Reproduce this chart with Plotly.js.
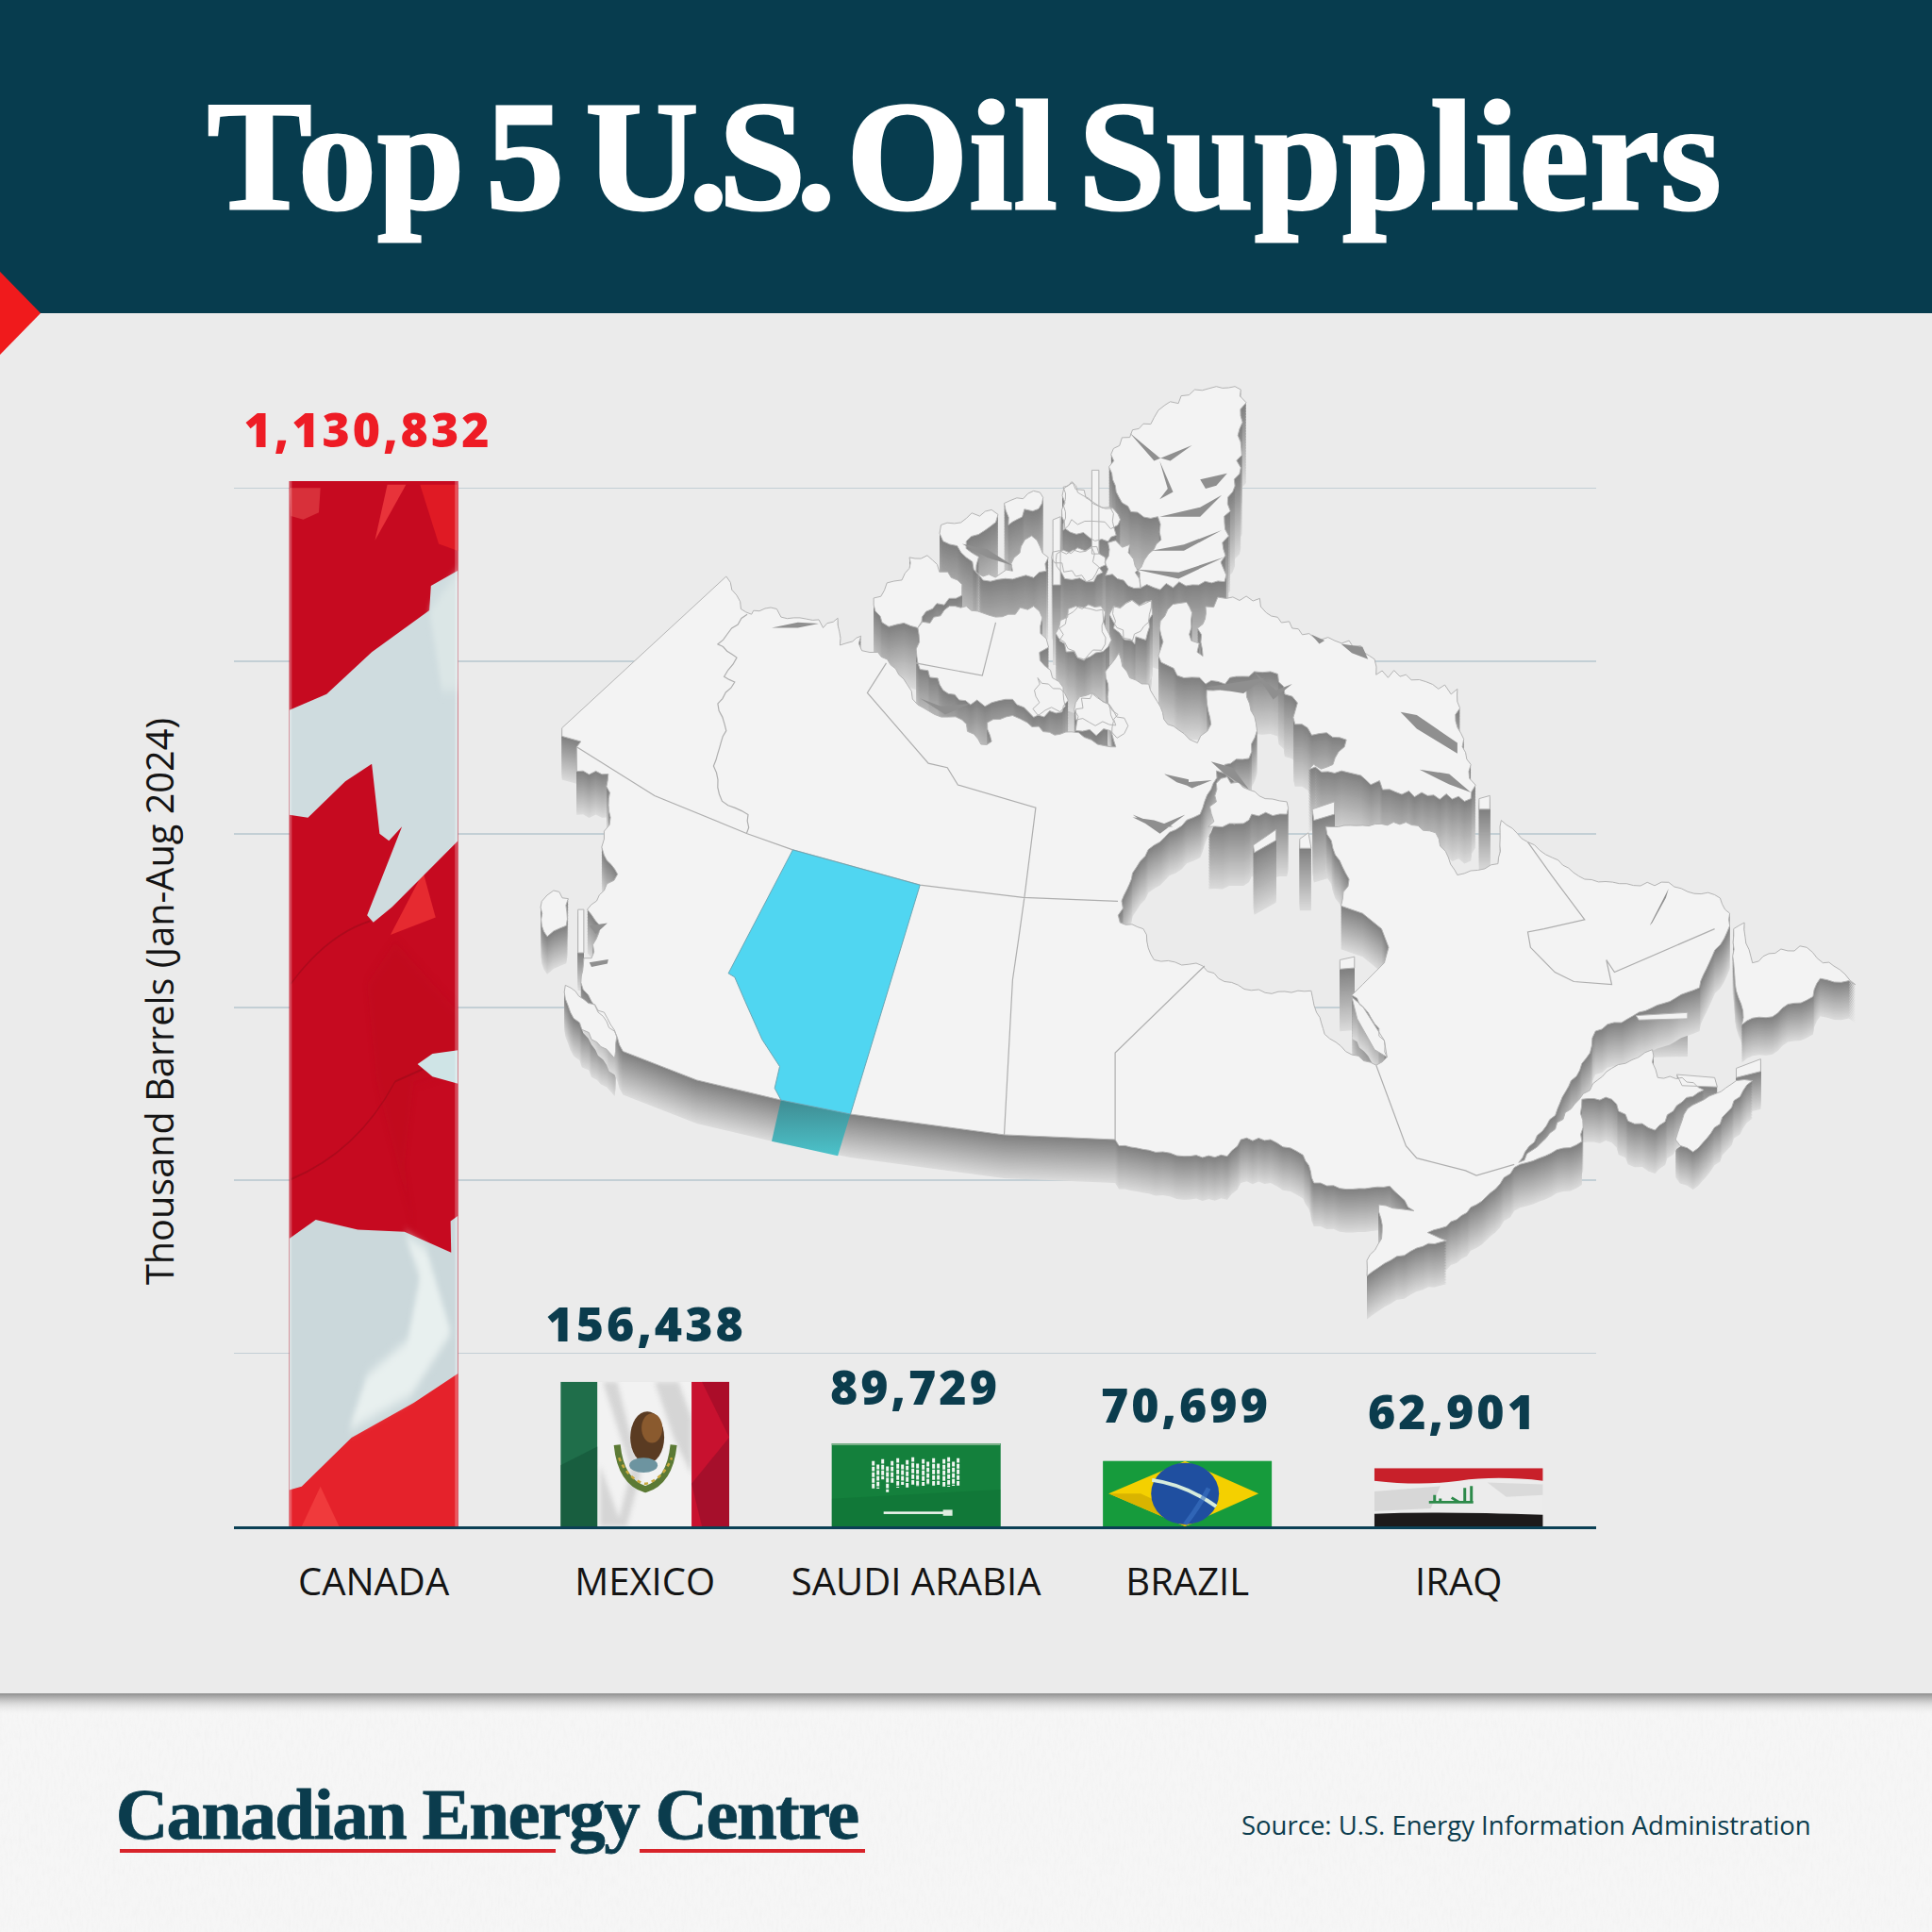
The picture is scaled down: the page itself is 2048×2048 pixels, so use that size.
<!DOCTYPE html>
<html><head><meta charset="utf-8">
<script src="https://cdn.plot.ly/plotly-3.0.1.min.js"></script>
<style>
html,body{margin:0;padding:0;background:#fff}
.gtitle{word-spacing:-21px;letter-spacing:1px;stroke:#fff;stroke-width:3px}
.annotation[data-index="0"] text,.annotation[data-index="1"] text,.annotation[data-index="2"] text,.annotation[data-index="3"] text,.annotation[data-index="4"] text{letter-spacing:3px}
.annotation[data-index="5"] text{letter-spacing:-1.7px;stroke:#0b3c4d;stroke-width:.8px}
</style></head><body><div id="chart" style="width:2048px;height:2048px"></div>
<script>
const categories=['CANADA','MEXICO','SAUDI ARABIA','BRAZIL','IRAQ'];
const barrels=[1130832,156438,89729,70699,62901];
const valueLabels=['1,130,832','156,438','89,729','70,699','62,901'];
const valueColors=['#ee1c25','#0b3c4d','#0b3c4d','#0b3c4d','#0b3c4d'];
const barColors=['#c40a20','#e8e8e8','#14803c','#169b3c','#e8e8e8'];
const labelNudge=[-6,1,-1,-2,-6];
const labelLift=[19,26,24,24,24];
const titleText='Top 5 <span style="letter-spacing:-10px">U.S.</span> Oil Suppliers';
const axisTitle='Thousand Barrels (Jan-Aug 2024)';
const brand='Canadian Energy Centre';
const source='Source: U.S. Energy Information Administration';

const svgURI=(vb,body,defs='')=>'data:image/svg+xml,'+encodeURIComponent(
 `<svg xmlns="http://www.w3.org/2000/svg" viewBox="${vb}" preserveAspectRatio="none"><defs>${defs}</defs>${body}</svg>`);
const pts=a=>a.map(p=>p[0].toFixed(1)+','+p[1].toFixed(1)).join(' ');
const poly=(a,attr)=>`<polygon points="${a.map(p=>p.join(',')).join(' ')}" ${attr}/>`;

/* ---------- flags ---------- */
const flagCanada=svgURI('80 40 542 1497',
 `<rect x="80" y="40" width="542" height="1497" fill="#c60a20"/>
  ${poly([[330,760],[420,700],[622,800],[622,880],[480,900],[450,1020],[480,1110],[360,900]],'fill="#bb0a1e" opacity=".35" filter="url(#softc)"')}
  <path d="M85 760Q200 690 340 670M85 1040Q300 1000 420 900L620 860" fill="none" stroke="#8d0a18" stroke-width="3" opacity=".45"/>
  ${poly([[355,125],[395,45],[455,45]],'fill="#e8333a"')}
  ${poly([[80,50],[180,50],[175,85],[125,95],[85,90]],'fill="#d8303a"')}
  ${poly([[500,45],[622,45],[622,140],[560,130]],'fill="#e01a24"')}
  ${poly([[405,690],[510,600],[550,665]],'fill="#e62a30"')}
  ${poly([[80,1485],[120,1480],[280,1410],[622,1318],[622,1537],[80,1537]],'fill="#e5222b"')}
  ${poly([[120,1537],[180,1480],[240,1537]],'fill="#f03a3c"')}
  ${poly([[80,368],[200,345],[345,285],[530,225],[535,190],[622,168],[622,555],[500,610],[410,650],[350,672],[330,662],[442,535],[400,555],[370,545],[345,445],[260,470],[140,522],[80,518]],'fill="#cfdcdf"')}
  ${poly([[622,855],[540,860],[492,875],[540,893],[622,903]],'fill="#cfe4e6"')}
  ${poly([[80,1125],[165,1098],[300,1112],[450,1115],[600,1145],[598,1100],[622,1092],[622,1318],[480,1360],[280,1410],[120,1480],[80,1485]],'fill="#cbd8db"')}
  ${poly([[270,1400],[330,1320],[460,1270],[500,1180],[450,1118],[520,1140],[600,1260],[470,1350]],'fill="#e8f0ef" filter="url(#softc)"')}
  ${poly([[530,225],[622,170],[622,340],[570,340]],'fill="#dbe6e6" filter="url(#softc)"')}
  ${poly([[80,40],[88,40],[88,1537],[80,1537]],'fill="#fff" opacity=".25"')}${poly([[612,40],[622,40],[622,1537],[612,1537]],'fill="#fff" opacity=".25"')}`,
 `<filter id="softc" x="-20%" y="-20%" width="140%" height="140%"><feGaussianBlur stdDeviation="8"/></filter>`);

const flagMexico=svgURI('0 0 179 156',
 `<rect width="179" height="156" fill="#f2f2f2"/>
  <path d="M45 0H60L85 100L70 156H60L75 95ZM100 0H125L139 40V100L120 60ZM42 90L65 156H42Z" fill="#c9c9c9" opacity=".7" filter="url(#soft)"/>
  <rect width="39" height="156" fill="#1f6e4a"/>
  ${poly([[0,90],[39,70],[39,156],[0,156]],'fill="#15573a" opacity=".7"')}
  <rect x="139" width="40" height="156" fill="#c8112f"/>
  ${poly([[150,0],[179,0],[179,60]],'fill="#9e0c26" opacity=".7"')}${poly([[139,110],[179,60],[179,156],[150,156]],'fill="#94102a" opacity=".65"')}
  <ellipse cx="92" cy="60" rx="18" ry="28" fill="#5a3b22"/><ellipse cx="97" cy="50" rx="11" ry="16" fill="#8a5a2e"/>
  <path d="M60 68 Q64 108 90 116 Q116 108 120 68" fill="none" stroke="#5c7a35" stroke-width="7"/>
  <path d="M62 82 Q72 106 90 110 Q108 106 118 82" fill="none" stroke="#c9a93e" stroke-width="2.5" stroke-dasharray="4 4"/>
  <ellipse cx="88" cy="90" rx="15" ry="8" fill="#6d94a0"/>`,
 `<filter id="soft"><feGaussianBlur stdDeviation="2.5"/></filter>`);

let script='';
const strokes=[[3,4,30],[8,8,26],[13,2,22],[18,10,28],[23,4,24],[29,1,32],[34,8,22],[39,3,30],[45,0,31],[50,7,25],[56,2,29],[61,5,25],[67,1,31],[72,7,23],[78,2,31],[83,0,32],[88,5,26],[93,1,30]];
strokes.forEach(s=>{script+=`<path d="M${41+s[0]} ${15+s[1]}v${s[2]}" stroke="#f2f7f2" stroke-width="3" stroke-dasharray="5 1.2"/>`;});
const flagSaudi=svgURI('0 0 179 90',
 `<rect width="179" height="90" fill="#14803c"/><rect width="179" height="2" fill="#7bb08a"/>
  ${poly([[0,60],[179,50],[179,90],[0,90]],'fill="#0f7335" opacity=".6"')}
  ${script}<rect x="55" y="74" width="66" height="2.6" fill="#eef5ee"/><rect x="118" y="72" width="10" height="6.5" fill="#dfeee0"/>`);

const flagBrazil=svgURI('0 0 179 72',
 `<rect width="179" height="72" fill="#169b3c"/>
  ${poly([[6,36],[87,0],[165,36],[87,72]],'fill="#f4d000"')}
  ${poly([[6,36],[87,72],[102,66],[40,36]],'fill="#d9b400"')}
  <ellipse cx="87" cy="36" rx="36" ry="34" fill="#1f4fa0"/>
  <path d="M52 21 Q87 26 120 50" fill="none" stroke="#d7ecdc" stroke-width="4"/>
  <path d="M87 70 Q102 50 112 30" fill="none" stroke="#3c74c4" stroke-width="5" opacity=".6"/>`);

const flagIraq=svgURI('0 0 179 65',
 `<rect width="179" height="65" fill="#ececec"/>
  <path d="M0 0H179V14Q130 8 90 14T0 14Z" fill="#c8202a"/>
  <path d="M0 51Q60 48 179 52V65H0Z" fill="#1d1a1a"/>
  ${poly([[0,26],[70,20],[60,45],[0,48]],'fill="#cfcfcf" opacity=".7"')}
  ${poly([[120,16],[179,18],[179,30],[140,32]],'fill="#d6d6d6" opacity=".8"')}
  <path d="M58 38H105M64 30V38M70 34V38M82 33 L90 38M96 22V38M103 20V38" stroke="#2d8a4a" stroke-width="3" fill="none"/>`);

/* ---------- background furniture with shadow and paper grain ---------- */
const backdrop=svgURI('0 0 2048 2048',
 `<rect y="1795" width="2048" height="253" fill="#f6f6f6"/>
  <rect y="1795" width="2048" height="253" filter="url(#grain)" opacity=".35"/>
  <rect y="1795" width="2048" height="24" fill="url(#drop)"/>`,
 `<filter id="grain" x="0" y="0" width="100%" height="100%"><feTurbulence type="fractalNoise" baseFrequency="0.35 0.09" numOctaves="3" seed="4"/>
   <feColorMatrix values="0 0 0 0 .72  0 0 0 0 .72  0 0 0 0 .72  .5 .5 0 0 -.42"/></filter>
  <linearGradient id="drop" x1="0" y1="0" x2="0" y2="1"><stop offset="0" stop-color="#8f8f8f"/><stop offset=".45" stop-color="#d2d2d2" stop-opacity=".8"/><stop offset="1" stop-color="#f6f6f6" stop-opacity="0"/></linearGradient>`);

/* ---------- map of Canada, traced in reference pixels from two crops ---------- */
const A=a=>a.map(p=>[560+p[0]/2.24,390+p[1]/1.742]);
const B=a=>a.map(p=>[1100+p[0]/1.742,390+p[1]/1.522]);
/* roughens a traced coastline into a rugged edge */
function rug(a,amp,closed){
  const out=[];const n=a.length;
  for(let i=0;i<(closed?n:n-1);i++){
    const p=a[i],q=a[(i+1)%n];const d=Math.hypot(q[0]-p[0],q[1]-p[1]);const m=Math.max(1,Math.round(d/7));
    const nx=-(q[1]-p[1])/(d||1),ny=(q[0]-p[0])/(d||1);
    for(let j=0;j<m;j++){const t=j/m,x=p[0]+(q[0]-p[0])*t,y=p[1]+(q[1]-p[1])*t;
      const w=j===0?0:amp*(Math.sin(x*1.37+y*0.61)+0.7*Math.sin(x*0.43-y*1.91)+0.5*Math.sin(x*3.1+y*2.3));
      out.push([x+nx*w,y+ny*w]);}
  }
  if(!closed)out.push(a[n-1]);
  return out;
}
const mainland=[
 ...A([[80,665],[470,385]]),
 ...rug(A([[470,385],[495,420],[505,445],[530,455],[535,448],[590,445],[600,460],[690,465],[700,480],[735,462],[740,512],[770,505],[790,495],[792,522],[830,525],[860,548],[900,585],[925,622],[965,640],[1030,650],[1075,695],[1100,690],[1090,655],[1150,642],[1185,655],[1250,678],[1290,672],[1320,682],[1370,698],[1395,700]]),1.4,false),
 ...rug(B([[140,600],[135,560],[125,490],[150,460],[170,500],[205,510],[240,575],[270,590],[295,605],[320,575],[312,520],[385,520],[405,585],[390,630],[345,640],[365,668],[330,650],[320,680],[300,720],[255,745],[215,770],[175,815],[155,860],[152,895],[195,905],[215,955],[305,965],[345,990],[420,1008],[505,1005],[515,1040],[530,1075],[580,1108],[625,1125],[645,1112],[640,1085],[610,1040],[580,1012]]),1.2,false),
 ...B([[600,995],[640,960],[648,935],[635,905],[600,880],[560,868]]),
 ...rug(B([[560,868],[575,825],[545,775],[532,740],[600,738],[680,733],[735,750],[770,810],[775,818],[850,800],[856,730],[905,765],[950,790],[1010,825],[1100,835],[1165,830],[1200,845],[1250,850],[1278,880],[1278,900],[1240,960],[1222,1000],[1100,1045],[1030,1070],[1020,1105],[985,1150],[960,1195],[900,1265],[888,1282],[930,1250],[1000,1180],[1025,1155],[1060,1130],[1110,1112],[1135,1100],[1135,1120],[1145,1145],[1190,1145],[1230,1165],[1180,1190],[1140,1230],[1090,1215],[1060,1180],[1005,1180],[1005,1248],[880,1290],[845,1325],[810,1350],[755,1385],[720,1395],[755,1408],[700,1420],[640,1445],[608,1465],[608,1440],[635,1405],[630,1350],[695,1360],[650,1320],[570,1325],[510,1315],[490,1270],[430,1245],[375,1245],[350,1272],[270,1272],[205,1262],[150,1255],[143,1245]]),1.1,false),
 ...A([[1130,1416],[765,1378],[600,1352],[400,1315],[225,1262]]),
 ...rug(A([[225,1262],[205,1225],[150,1170],[125,1135],[132,1090],[150,1090],[170,1030],[140,1000],[180,965],[212,935],[180,900],[180,870],[195,830],[190,750],[115,745]]),1.3,false),
 ...A([[115,700],[125,690],[80,680]])
];
const R=(a,amp)=>rug(a,amp||2.6,true);
const islandsTall=[
 R(B([[375,35],[330,30],[290,35],[265,45],[235,60],[215,80],[175,100],[170,112],[140,130],[137,170],[145,200],[172,232],[222,240],[225,265],[205,300],[180,330],[190,355],[345,345],[345,250],[360,200],[376,130]])),
 R(B([[48,195],[65,185],[100,215],[140,235],[145,270],[130,280],[60,265],[45,240]])),
 B([[100,165],[113,165],[113,300],[100,300]]),
 R(B([[35,300],[100,290],[120,330],[90,345],[50,340],[35,320]])),
 R(B([[130,282],[170,285],[180,320],[190,355],[125,335]])),
 R(B([[40,420],[75,385],[120,390],[130,450],[85,470],[40,440]])),
 R(B([[140,385],[210,375],[205,410],[175,440],[140,420]])),
 B([[28,245],[42,240],[42,350],[28,350]]),
 R(A([[980,290],[1100,262],[1110,285],[1040,320],[1080,385],[1150,375],[1170,330],[1195,310],[1235,350],[1230,375],[1150,390],[1080,392],[1040,350],[985,320]])),
 R(A([[1130,250],[1160,240],[1215,230],[1220,250],[1160,280],[1140,290]])),
 R(A([[1245,340],[1310,340],[1350,330],[1370,350],[1340,390],[1300,385],[1250,360]])),
 R(A([[1270,220],[1290,210],[1340,250],[1400,270],[1400,290],[1290,280],[1270,300]]))
];
const islandsMid=[
 R(A([[820,425],[905,370],[905,350],[960,355],[1030,400],[1030,420],[970,435],[935,460],[925,480],[840,470]])),
 R(A([[925,480],[1000,440],[1040,440],[1110,460],[1140,455],[1200,440],[1230,500],[1215,540],[1270,590],[1275,625],[1200,645],[1150,612],[1050,622],[985,595],[925,545]])),
 R(A([[1260,480],[1300,440],[1360,440],[1370,510],[1320,540],[1260,500]])),
 R(A([[1390,440],[1480,430],[1470,490],[1440,510],[1390,470]])),
 R(A([[1300,630],[1340,600],[1400,640],[1395,660],[1300,650]])),
 R(B([[0,500],[20,510],[50,525],[45,555],[0,560]])),
 R(B([[70,540],[100,525],[160,565],[160,590],[70,585]])),
 R(B([[348,372],[410,372],[422,395],[470,420],[510,435],[575,440],[622,470],[625,495],[680,495],[740,518],[775,518],[775,580],[800,640],[800,695],[720,690],[650,680],[585,655],[500,648],[545,640],[570,600],[520,590],[475,575],[470,530],[430,490],[400,490],[310,510],[270,500],[228,475],[225,420],[240,390],[275,378],[285,395],[280,430],[305,465],[295,420],[310,385]])),
 R(B([[330,670],[350,660],[420,695],[460,700],[460,720],[395,720],[380,735],[315,740],[330,700]])),
 B([[398,770],[440,745],[440,762],[400,782]]),
 B([[484,760],[500,750],[505,775],[484,775]]),
 B([[507,712],[548,700],[548,720],[510,730]]),
 B([[815,695],[835,690],[835,712],[815,712]]),
 B([[558,955],[585,950],[585,968],[558,970]]),
 B([[580,1015],[600,1030],[640,1085],[645,1112],[622,1100],[590,1050]])
];
const islandsLow=[
 R(A([[32,985],[60,965],[95,980],[90,1030],[60,1040],[45,1050],[32,1030]]),1.5),
 R(A([[88,1140],[120,1160],[180,1190],[210,1235],[205,1275],[150,1240],[100,1190],[88,1165]]),1.5),
 A([[118,1000],[132,1000],[132,1080],[118,1080]]),
 R(B([[1285,905],[1305,895],[1320,960],[1350,945],[1420,935],[1450,960],[1470,965],[1510,995],[1445,985],[1420,1020],[1300,1060],[1285,960]]),1.8),
 R(B([[1178,1245],[1210,1265],[1260,1220],[1320,1150],[1290,1150],[1240,1175],[1200,1195]]),1.5),
 B([[1290,1130],[1335,1115],[1335,1135],[1290,1145]]),
 B([[1180,1140],[1250,1145],[1255,1160],[1190,1158]]),
 B([[1105,1045],[1200,1040],[1200,1050],[1110,1052]])
];
const borders=[
 A([[115,700],[300,790],[520,860],[628,890],[930,955],[1175,978],[1400,985]]),
 rug(A([[520,455],[450,510],[495,535],[465,570],[490,580],[450,620],[470,670],[440,735],[460,800],[522,825],[518,860]]),1,false),
 A([[850,545],[805,600],[950,730],[995,738],[1020,770],[1205,812],[1178,978],[1165,1050],[1150,1130],[1130,1416]]),
 A([[1110,470],[1078,568],[920,545]]),
 B([[308,965],[143,1105],[143,1245]]),
 B([[625,1125],[680,1255],[700,1275],[790,1295],[810,1303],[880,1285]]),
 B([[1250,905],[1065,975],[1050,955],[1060,995],[990,990],[955,975],[910,935],[905,910],[935,905],[1010,890],[950,820],[905,765]])
];
const inlets=[
 B([[170,105],[215,150],[285,125],[245,150],[225,145]]),
 B([[225,150],[250,200],[225,212],[240,195]]),
 B([[300,180],[350,170],[330,190],[310,195]]),
 B([[225,240],[300,225],[340,205],[300,240]]),
 B([[210,295],[270,285],[340,262],[270,295]]),
 B([[180,325],[260,330],[345,305],[260,340]]),
 B([[235,655],[280,668],[322,665],[285,678]]),
 B([[175,725],[215,730],[250,740],[215,742]]),
 B([[670,555],[700,560],[775,605],[775,622],[700,582]]),
 B([[705,648],[760,655],[800,685],[760,672]]),
 B([[1130,900],[1165,840],[1160,855],[1135,895]]),
 B([[320,635],[360,645],[390,680],[345,655]]),
 B([[560,445],[600,450],[610,470],[580,460]]),
 B([[505,430],[530,440],[520,445]]),
 B([[400,490],[440,520],[470,510],[435,535]]),
 B([[310,515],[385,505],[420,500],[380,525]]),
 A([[1510,750],[1568,760],[1568,772],[1540,765]]),
 A([[1435,825],[1500,845],[1560,825],[1500,860]]),
 A([[578,480],[640,470],[690,472],[640,480]]),
 A([[145,1030],[188,1025],[160,1045]]),
 A([[145,1098],[190,1092],[188,1100],[150,1106]]),
 A([[1030,325],[1090,335],[1150,365],[1090,350]]),
 A([[930,610],[980,625],[1050,620],[990,640]])
];
const alberta=A([[628,890],[930,955],[765,1378],[600,1352],[585,1330],[597,1290],[555,1240],[515,1170],[490,1125],[475,1118]]);
const albertaWall=A([[600,1352],[765,1378],[735,1455],[578,1428]]);

const pathOf=list=>list.map(a=>'M'+a.map(p=>p[0].toFixed(1)+' '+p[1].toFixed(1)).join('L')+'Z').join('');
const lineOf=a=>'M'+a.map(p=>p[0].toFixed(1)+' '+p[1].toFixed(1)).join('L');
function wall(id,h){
  let s='';
  for(let k=h;k>=1;k-=1.5){
    const v=Math.round(126+(k/h)*92);
    s+=`<use href="#${id}" y="${k}" fill="rgb(${v},${v},${v})"/>`;
  }
  return s;
}
const allLand=[mainland,...islandsTall,...islandsMid,...islandsLow];
const mapImage=svgURI('0 0 2048 2048',
 wall('g1',85)+wall('g2',66)+wall('g3',40)+wall('g0',46)+
 `<path d="${pathOf(allLand)}" fill="#f3f3f3" fill-rule="nonzero" stroke="#b4b4b4" stroke-width="1"/>
  <path d="${pathOf(inlets)}" fill="#8f8f8f"/>
  <path d="${borders.map(lineOf).join('')}" fill="none" stroke="#aeaeae" stroke-width="1.2"/>
  <polygon points="${pts(albertaWall)}" fill="url(#aw)"/>
  <polygon points="${pts(alberta)}" fill="#50d6f1" stroke="#6aa7b5" stroke-width="1"/>`,
 `<path id="g0" d="${pathOf([mainland])}"/><path id="g1" d="${pathOf(islandsTall)}"/><path id="g2" d="${pathOf(islandsMid)}"/><path id="g3" d="${pathOf(islandsLow)}"/>
  <linearGradient id="aw" x1="0" y1="0" x2="0" y2="1"><stop offset="0" stop-color="#3f8c92"/><stop offset="1" stop-color="#4cc3cb"/></linearGradient>`);

/* ---------- chart ---------- */
const flags=[flagCanada,flagMexico,flagSaudi,flagBrazil,flagIraq];
const H=2048;
const trace={type:'bar',x:categories,y:barrels,marker:{color:barColors,line:{width:0}},width:0.622,hoverinfo:'none',cliponaxis:false};

const layout={
 width:H,height:H,margin:{l:0,r:0,t:0,b:0,pad:0},autosize:false,showlegend:false,
 paper_bgcolor:'#ebebeb',plot_bgcolor:'rgba(0,0,0,0)',
 title:{text:titleText,x:0.4993,xref:'paper',xanchor:'center',y:1-163/H,yref:'paper',yanchor:'middle',
   font:{family:'"Liberation Serif",serif',size:166,color:'#ffffff',weight:700}},
 xaxis:{domain:[248/H,1692/H],type:'category',range:[-0.515,4.507],showgrid:false,zeroline:false,showline:true,linecolor:'#0b4055',linewidth:2.5,
   ticks:'',ticklabelstandoff:22,tickfont:{family:'"Open Sans",sans-serif',size:40,color:'#141414'},automargin:false,fixedrange:true},
 yaxis:{domain:[1-1618/H,1-505/H],range:[0,1135900],tick0:0,dtick:187200,showticklabels:false,ticks:'',showline:false,zeroline:false,
   gridcolor:'#c3cfd5',gridwidth:1.6,automargin:false,fixedrange:true,
   title:{text:axisTitle,standoff:50,font:{family:'"Open Sans",sans-serif',size:39.7,color:'#141414'}}},
 shapes:[
  {type:'rect',xref:'paper',yref:'paper',x0:0,x1:1,y0:1-332/H,y1:1,fillcolor:'#073c4e',line:{width:0},layer:'below'},
  {type:'path',xref:'paper',yref:'paper',path:`M0 ${1-288/H}L${43/H} ${1-332/H}L0 ${1-376/H}Z`,fillcolor:'#f01a1c',line:{width:0},layer:'above'},
  {type:'rect',xref:'paper',yref:'paper',x0:127/H,x1:589/H,y0:1-1964/H,y1:1-1960/H,fillcolor:'#d8232a',line:{width:0},layer:'above'},
  {type:'rect',xref:'paper',yref:'paper',x0:678/H,x1:917/H,y0:1-1964/H,y1:1-1960/H,fillcolor:'#d8232a',line:{width:0},layer:'above'}
 ],
 images:[
  {source:backdrop,xref:'paper',yref:'paper',x:0,y:1,sizex:1,sizey:1,xanchor:'left',yanchor:'top',sizing:'stretch',layer:'below'},
  {source:mapImage,xref:'paper',yref:'paper',x:0,y:1,sizex:1,sizey:1,xanchor:'left',yanchor:'top',sizing:'stretch',layer:'above'},
  ...flags.map((src,i)=>({source:src,xref:'x',yref:'y',x:i-0.311,y:barrels[i],sizex:0.622,sizey:barrels[i],xanchor:'left',yanchor:'top',sizing:'stretch',layer:'above'}))
 ],
 annotations:[
  ...categories.map((c,i)=>({xref:'x',yref:'y',x:c,y:barrels[i],text:valueLabels[i],showarrow:false,xanchor:'center',yanchor:'bottom',yshift:labelLift[i],xshift:labelNudge[i],
     font:{family:'"Open Sans",sans-serif',size:50,color:valueColors[i],weight:800}})),
  {xref:'paper',yref:'paper',x:127/H,y:1-1948/H,text:brand,showarrow:false,xanchor:'left',yanchor:'middle',yshift:25,xshift:-25,
     font:{family:'"Liberation Serif",serif',size:77,color:'#0b3c4d',weight:700}},
  {xref:'paper',yref:'paper',x:1920/H,y:1-1934/H,text:source,showarrow:false,xanchor:'right',yanchor:'middle',xshift:2,
     font:{family:'"Open Sans",sans-serif',size:27.5,color:'#0b3c4d'}}
 ]
};
Plotly.newPlot('chart',[trace],layout,{staticPlot:true,displayModeBar:false});
</script></body></html>
